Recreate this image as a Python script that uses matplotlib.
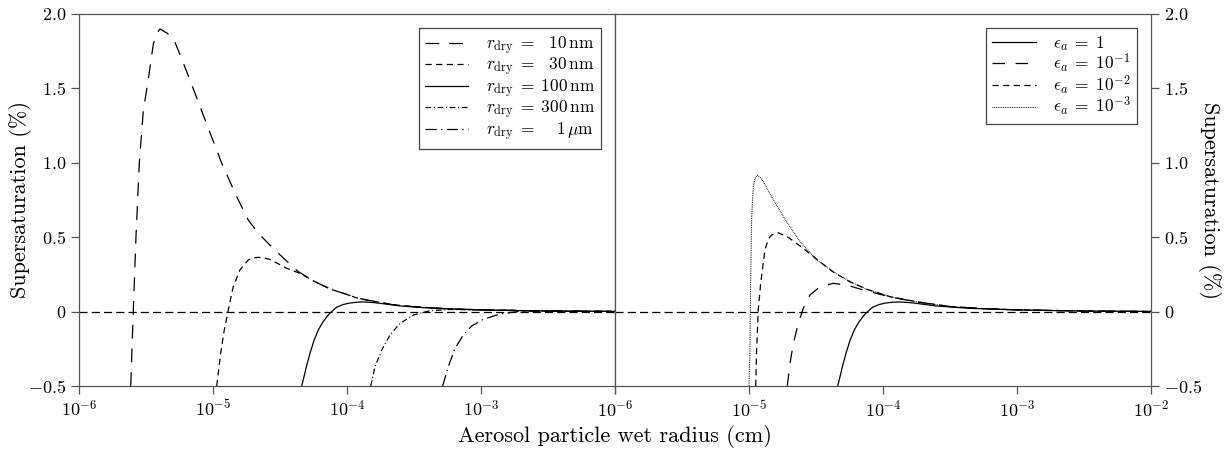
import numpy as np
import matplotlib
matplotlib.use('Agg')
import matplotlib.pyplot as plt
from matplotlib.ticker import NullLocator, LogFormatterMathtext

plt.rcParams['font.family'] = 'serif'
plt.rcParams['font.serif'] = ['cmr10']
plt.rcParams['mathtext.fontset'] = 'cm'
plt.rcParams['axes.formatter.use_mathtext'] = True

# curves: log10 of wet radius (cm) and supersaturation (%)
r10_logx = [-5.614, -5.595, -5.575, -5.55, -5.52, -5.483, -5.445, -5.42, -5.396, -5.34, -5.284,
            -5.234, -5.134, -5.035, -4.935, -4.823, -4.737, -4.662, -4.567, -4.475, -4.363,
            -4.239, -4.12, -4.0, -3.928, -3.853, -3.654, -3.5, -3.25, -3.0, -2.5, -2.0]
r10_s = [-0.5, 0.0, 0.5, 1.0, 1.35, 1.56, 1.80, 1.87, 1.90, 1.87, 1.81,
         1.70, 1.467, 1.232, 0.997, 0.772, 0.616, 0.526, 0.44, 0.36, 0.268,
         0.201, 0.15, 0.115, 0.092, 0.078, 0.046, 0.033, 0.019, 0.012, 0.004, 0.0012]

r30_logx = [-4.972, -4.943, -4.916, -4.886, -4.849, -4.799, -4.737, -4.70, -4.662, -4.62, -4.575,
            -4.45, -4.35, -4.239, -4.12, -4.0, -3.928, -3.853, -3.654, -3.5, -3.25, -3.0, -2.5, -2.0]
r30_s = [-0.5, -0.28, -0.124, 0.011, 0.167, 0.280, 0.347, 0.36, 0.365, 0.36, 0.351,
         0.291, 0.257, 0.201, 0.15, 0.115, 0.092, 0.078, 0.046, 0.033, 0.019, 0.012, 0.004, 0.0012]

r100_logx = [-4.338, -4.30, -4.276, -4.245, -4.214, -4.18, -4.14, -4.10, -4.077, -4.03, -3.99,
             -3.93, -3.878, -3.82, -3.754, -3.68, -3.604, -3.356, -3.0, -2.5, -2.0]
r100_s = [-0.5, -0.36, -0.28, -0.19, -0.124, -0.07, -0.023, 0.012, 0.029, 0.047, 0.056,
          0.063, 0.065, 0.062, 0.056, 0.047, 0.038, 0.022, 0.011, 0.0035, 0.001]

r300_logx = [-3.823, -3.791, -3.741, -3.679, -3.604, -3.505, -3.381, -3.231, -3.0, -2.5, -2.0]
r300_s = [-0.5, -0.37, -0.258, -0.157, -0.079, -0.023, 0.006, 0.014, 0.011, 0.0035, 0.001]

r1000_logx = [-3.286, -3.244, -3.194, -3.132, -3.07, -2.983, -2.858, -2.709, -2.485, -2.0]
r1000_s = [-0.5, -0.37, -0.247, -0.157, -0.097, -0.052, -0.016, 0.002, 0.004, 0.001]

eps1e3_logx = [-5.0, -4.993, -4.988, -4.98, -4.968, -4.955, -4.938, -4.915, -4.893, -4.831,
               -4.744, -4.619, -4.495, -4.371, -4.246, -4.12, -3.948, -3.749, -3.5, -3.25,
               -3.0, -2.5, -2.0]
eps1e3_s = [-0.5, -0.258, 0.19, 0.638, 0.839, 0.895, 0.916, 0.90, 0.873, 0.772,
            0.638, 0.470, 0.347, 0.268, 0.201, 0.15, 0.100, 0.066, 0.034, 0.02,
            0.012, 0.004, 0.0012]

eps1e2_logx = [-4.95, -4.943, -4.931, -4.913, -4.881, -4.855, -4.831, -4.781, -4.707, -4.595,
               -4.47, -4.371, -4.246, -4.12, -3.948, -3.749, -3.5, -3.25, -3.0, -2.5, -2.0]
eps1e2_s = [-0.5, -0.258, 0.011, 0.19, 0.414, 0.49, 0.515, 0.530, 0.499, 0.425,
            0.335, 0.266, 0.200, 0.15, 0.100, 0.066, 0.034, 0.02, 0.012, 0.004, 0.0012]

eps1e1_logx = [-4.714, -4.694, -4.669, -4.632, -4.595, -4.545, -4.47, -4.371, -4.271, -4.147,
               -3.948, -3.749, -3.5, -3.25, -3.0, -2.5, -2.0]
eps1e1_s = [-0.5, -0.348, -0.213, -0.079, 0.022, 0.112, 0.167, 0.190, 0.179, 0.145,
            0.099, 0.065, 0.034, 0.02, 0.012, 0.004, 0.0012]

left_labels = [r'$r_\mathrm{dry}\;=\;\enspace 10\,\mathrm{nm}$',
               r'$r_\mathrm{dry}\;=\;\enspace 30\,\mathrm{nm}$',
               r'$r_\mathrm{dry}\;=\;100\,\mathrm{nm}$',
               r'$r_\mathrm{dry}\;=\;300\,\mathrm{nm}$',
               r'$r_\mathrm{dry}\;=\;\quad 1\,\mu\mathrm{m}$']
right_labels = [r'$\epsilon_a\;=\;1$', r'$\epsilon_a\;=\;10^{-1}$',
                r'$\epsilon_a\;=\;10^{-2}$', r'$\epsilon_a\;=\;10^{-3}$']

yticks = [-0.5, 0, 0.5, 1.0, 1.5, 2.0]
ytick_labels = [r'$-0.5$', r'$0$', r'$0.5$', r'$1.0$', r'$1.5$', r'$2.0$']

W, H = 1231, 453
fig = plt.figure(figsize=(W / 100, H / 100), dpi=100)
ax1 = fig.add_axes([79 / W, 67 / H, 536 / W, 372 / H])
ax2 = fig.add_axes([615 / W, 67 / H, 536 / W, 372 / H])

lw = 0.9
k = 'black'
ax1.plot(10 ** np.array(r10_logx), r10_s, color=k, lw=lw, dashes=(11, 8), label=left_labels[0])
ax1.plot(10 ** np.array(r30_logx), r30_s, color=k, lw=lw, dashes=(5, 3.5), label=left_labels[1])
ax1.plot(10 ** np.array(r100_logx), r100_s, color=k, lw=lw, label=left_labels[2])
ax1.plot(10 ** np.array(r300_logx), r300_s, color=k, lw=lw, dashes=(4.5, 2.2, 0.8, 2.2), label=left_labels[3])
ax1.plot(10 ** np.array(r1000_logx), r1000_s, color=k, lw=lw, dashes=(9, 3.5, 1, 3.5), label=left_labels[4])

ax2.plot(10 ** np.array(r100_logx), r100_s, color=k, lw=lw, label=right_labels[0])
ax2.plot(10 ** np.array(eps1e1_logx), eps1e1_s, color=k, lw=lw, dashes=(10, 8.5), label=right_labels[1])
ax2.plot(10 ** np.array(eps1e2_logx), eps1e2_s, color=k, lw=lw, dashes=(5, 3.5), label=right_labels[2])
ax2.plot(10 ** np.array(eps1e3_logx), eps1e3_s, color=k, lw=0.8, dashes=(0.7, 0.9), label=right_labels[3])

for ax in (ax1, ax2):
    ax.axhline(0, color=k, lw=lw, dashes=(6.5, 3.3))
    ax.set_xscale('log')
    ax.set_xlim(1e-6, 1e-2)
    ax.set_ylim(-0.5, 2.0)
    ax.xaxis.set_minor_locator(NullLocator())
    ax.xaxis.set_major_formatter(LogFormatterMathtext())
    ax.set_xticks([1e-6, 1e-5, 1e-4, 1e-3, 1e-2])
    ax.set_yticks(yticks)
    ax.set_yticklabels(ytick_labels)
    ax.tick_params(direction='out', length=5.5, width=0.9, labelsize=13, color='#555555')
    for s in ax.spines.values():
        s.set_color('#555555')
        s.set_linewidth(0.9)

ax1.tick_params(top=False, right=False)
ax1.set_xticklabels([r'$10^{-6}$', r'$10^{-5}$', r'$10^{-4}$', r'$10^{-3}$', ''])
ax1.set_ylabel('Supersaturation (%)', fontsize=16)
ax1.yaxis.set_label_coords(-0.088, 0.5)

ax2.yaxis.tick_right()
ax2.yaxis.set_label_position('right')
ax2.tick_params(left=False, top=False)
ax2.set_ylabel('Supersaturation (%)', fontsize=16, rotation=270, va='bottom')
ax2.yaxis.set_label_coords(1.088, 0.5)

fig.text(615 / W, 16 / H, 'Aerosol particle wet radius (cm)', fontsize=16, ha='center', va='center')

for ax in (ax1, ax2):
    leg = ax.legend(loc='upper right', fontsize=12.5, fancybox=False, borderaxespad=0.8,
                    handlelength=2.5, handletextpad=1.0, borderpad=0.35, labelspacing=-0.08,
                    framealpha=1)
    leg.get_frame().set_edgecolor('#444444')
    leg.get_frame().set_linewidth(0.9)

fig.savefig('out.png', dpi=100)
